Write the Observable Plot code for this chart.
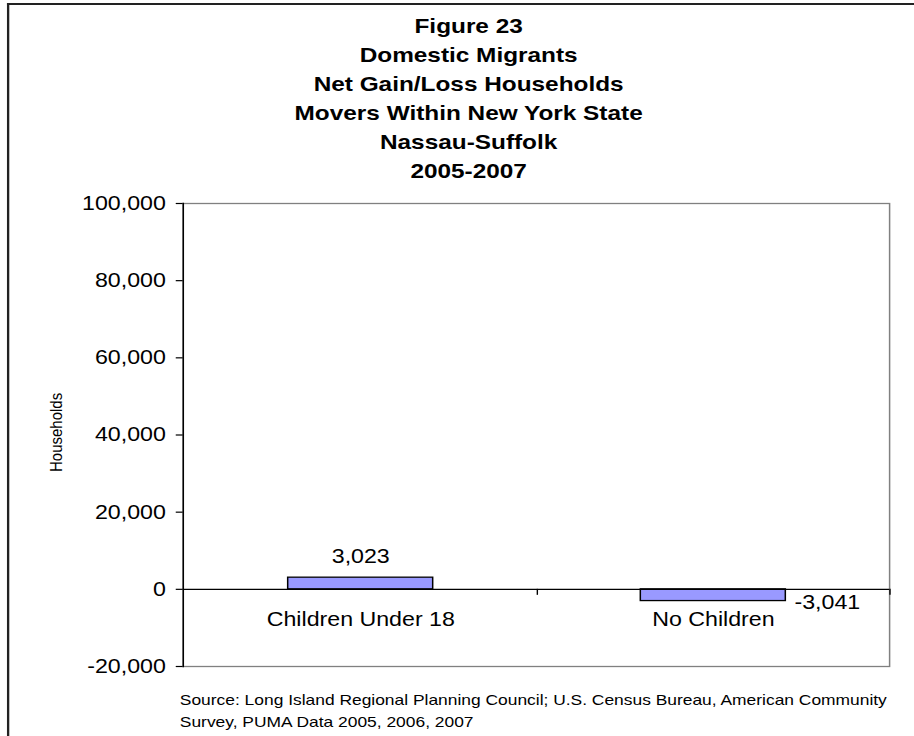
<!DOCTYPE html>
<html>
<head>
<meta charset="utf-8">
<script src="https://cdn.jsdelivr.net/npm/d3@7"></script>
<script src="https://cdn.jsdelivr.net/npm/@observablehq/plot@0.6"></script>
<style>
  html, body { margin: 0; padding: 0; background: #fff; }
  #page { position: relative; width: 914px; height: 736px; overflow: hidden; background: #fff; }
  #sheet {
    position: absolute; left: 0; top: 0; width: 788px; height: 736px;
    transform: scaleX(1.16); transform-origin: 0 0;
    font-family: "Liberation Sans", Arial, sans-serif; color: #000;
  }
  #edge {
    position: absolute; left: 6px; top: 3px; width: 800px; height: 760px;
    border-top: 2px solid #222; border-left: 2px solid #222;
  }
  #title {
    position: absolute; left: 104px; width: 600px; top: 11px;
    text-align: center; font-weight: bold; font-size: 21px; line-height: 29px;
  }
  #source {
    position: absolute; left: 155px; top: 689px; font-size: 15px; line-height: 22px;
  }
  #chart { position: absolute; left: 0; top: 0; }
</style>
</head>
<body>
<div id="page">
  <div id="sheet">
    <div id="edge"></div>
    <div id="chart"></div>
    <div id="title"></div>
    <div id="source"></div>
  </div>
</div>
<script>
// Net gain/loss of households moving within New York State, Nassau-Suffolk 2005-2007
const categories = ["Children Under 18", "No Children"];
const households = [3023, -3041];
const yTicks = [-20000, 0, 20000, 40000, 60000, 80000, 100000];
const titleLines = [
  "Figure 23",
  "Domestic Migrants",
  "Net Gain/Loss Households",
  "Movers Within New York State",
  "Nassau-Suffolk",
  "2005-2007"
];
const sourceLines = [
  "Source: Long Island Regional Planning Council; U.S. Census Bureau, American Community",
  "Survey, PUMA Data 2005, 2006, 2007"
];
const yLabel = "Households";

const rows = categories.map((c, i) => ({category: c, value: households[i]}));
// thousands separators with a plain hyphen for negatives
const fmt = d3.formatLocale({decimal: ".", thousands: ",", grouping: [3], currency: ["$", ""], minus: "-"}).format(",");

// layout of the plotting frame
const W = 788, H = 736;
const margin = {top: 203, right: 21.6, bottom: 70, left: 157.5};
const gap = 0.59; // space between bars as a share of each category slot
const step = (W - margin.left - margin.right) / categories.length;
const bandwidth = step * (1 - gap);

const font = "Liberation Sans, Arial, sans-serif";

const chart = Plot.plot({
  width: W,
  height: H,
  marginTop: margin.top,
  marginRight: margin.right,
  marginBottom: margin.bottom,
  marginLeft: margin.left,
  style: {fontFamily: font, fontSize: "20px", color: "#000", background: "transparent"},
  x: {type: "band", domain: categories, paddingInner: gap, paddingOuter: gap / 2, axis: null},
  y: {domain: [-20000, 100000], axis: null},
  marks: [
    Plot.frame({stroke: "#808080", strokeWidth: 1.3}),
    Plot.frame({anchor: "left", stroke: "#000", strokeWidth: 1.3}),
    Plot.axisY({
      ticks: yTicks, tickFormat: fmt, tickSize: 6, tickPadding: 9,
      fontSize: 20, stroke: "#000", strokeWidth: 1.2, label: null
    }),
    Plot.barY(rows, {x: "category", y: "value", fill: "#9999FF", stroke: "#000", strokeWidth: 1.3}),
    Plot.ruleY([0], {stroke: "#000", strokeWidth: 1.3}),
    // category boundary ticks below the zero line
    Plot.ruleX(categories, {x: d => d, y1: () => 0, y2: () => 0, dx: step / 2, insetTop: 6, stroke: "#000", strokeWidth: 1.2}),
    // value labels
    Plot.text(rows.filter(d => d.value >= 0), {
      x: "category", y: "value", text: d => fmt(d.value), dy: -21, fontSize: 20, fill: "#000"
    }),
    Plot.text(rows.filter(d => d.value < 0), {
      x: "category", y: "value", text: d => fmt(d.value), dx: bandwidth / 2 + 7.5, dy: 2,
      textAnchor: "start", fontSize: 20, fill: "#000"
    }),
    // category names beside the zero line
    Plot.text(rows, {x: "category", y: () => 0, text: "category", dy: 30, fontSize: 20, fill: "#000"}),
    // y axis title
    Plot.text([yLabel], {
      frameAnchor: "left", text: d => d, rotate: -90, dx: -109, dy: 37, fontSize: 15, fill: "#000"
    })
  ]
});

document.getElementById("chart").appendChild(chart);
document.getElementById("title").innerHTML = titleLines.map(t => `<div>${t}</div>`).join("");
document.getElementById("source").innerHTML = sourceLines.map(t => `<div>${t}</div>`).join("");
</script>
</body>
</html>
